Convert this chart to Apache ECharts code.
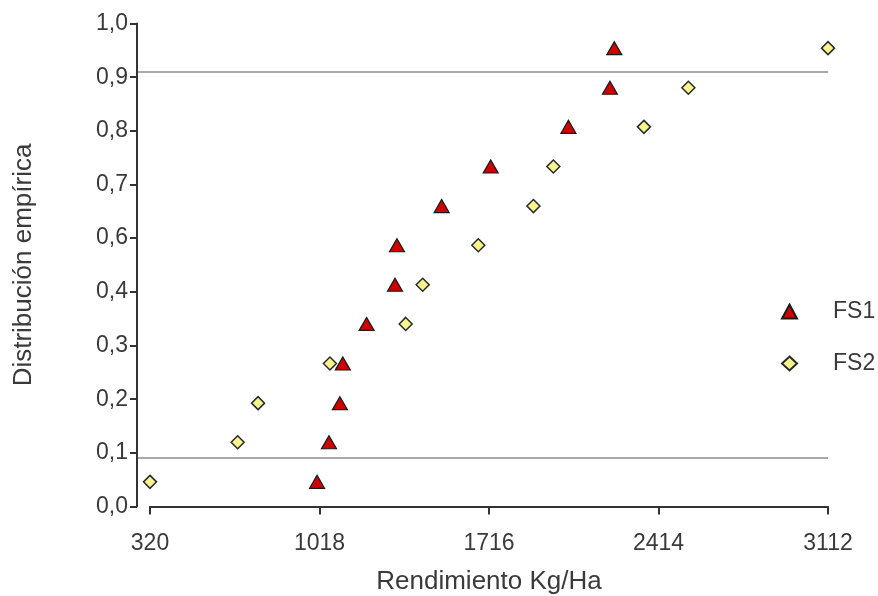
<!DOCTYPE html>
<html>
<head>
<meta charset="utf-8">
<script src="https://cdn.jsdelivr.net/npm/echarts@6/dist/echarts.min.js"></script>
<style>
  html, body { margin: 0; padding: 0; background: #ffffff; }
  #chart { width: 878px; height: 596px; }
</style>
</head>
<body>
<div id="chart"></div>
<script>
const seriesNames = ['FS1', 'FS2'];
const xFS1 = [1008, 1057, 1102, 1114, 1212, 1329, 1337, 1521, 1723, 2043, 2214, 2232];
const yFS1 = [0.051, 0.133, 0.214, 0.296, 0.378, 0.459, 0.541, 0.622, 0.704, 0.786, 0.867, 0.949];
const xFS2 = [320, 681, 765, 1061, 1373, 1443, 1672, 1899, 1981, 2354, 2537, 3112];
const yFS2 = [0.051, 0.133, 0.214, 0.296, 0.378, 0.459, 0.541, 0.622, 0.704, 0.786, 0.867, 0.949];
const xTickValues = [320, 1018, 1716, 2414, 3112];
const yTickValues = [0, 0.1111, 0.2222, 0.3333, 0.4444, 0.5556, 0.6667, 0.7778, 0.8889, 1];
const yTickLabels = ['0,0', '0,1', '0,2', '0,3', '0,4', '0,6', '0,7', '0,8', '0,9', '1,0'];
const refLines = [0.9, 0.1];

const pts1 = xFS1.map((x, i) => [x, yFS1[i]]);
const pts2 = xFS2.map((x, i) => [x, yFS2[i]]);

const txt = '#3a3a3a';
const axisCol = '#333333';
const fontFam = '"Liberation Sans", Arial, sans-serif';

const chart = echarts.init(document.getElementById('chart'), null, { renderer: 'canvas' });
chart.setOption({
  backgroundColor: '#ffffff',
  animation: false,
  textStyle: { fontFamily: fontFam },
  grid: [
    { left: 150, right: 50, top: 23.5, bottom: 89.5, outerBoundsMode: 'none', containLabel: false },
    { left: 138, right: 50, top: 23.5, bottom: 89.5, outerBoundsMode: 'none', containLabel: false, show: false }
  ],
  legend: {
    data: seriesNames,
    orient: 'vertical',
    left: 776,
    top: 295,
    itemWidth: 15,
    itemHeight: 14,
    itemGap: 29,
    textStyle: { fontSize: 23, color: txt, fontFamily: fontFam, padding: [0, 0, 0, 31] }
  },
  xAxis: [
    {
      type: 'value', gridIndex: 0, min: 320, max: 3112,
      offset: 12.5,
      name: 'Rendimiento Kg/Ha', nameLocation: 'middle', nameGap: 50,
      nameTextStyle: { fontSize: 26, color: txt, fontFamily: fontFam },
      axisLine: { show: true, lineStyle: { color: axisCol, width: 2 } },
      axisTick: { show: true, length: 8, customValues: xTickValues, lineStyle: { color: axisCol, width: 2 } },
      axisLabel: {
        customValues: xTickValues, fontSize: 23, color: txt, margin: 13, fontFamily: fontFam,
        formatter: function (v) { return String(Math.round(v)); }
      },
      splitLine: { show: false }
    },
    {
      type: 'value', gridIndex: 1, min: 0, max: 1, show: false
    }
  ],
  yAxis: [
    {
      type: 'value', gridIndex: 0, min: 0, max: 1,
      offset: 13,
      name: 'Distribución empírica', nameLocation: 'middle', nameGap: 100,
      nameTextStyle: { fontSize: 26, color: txt, fontFamily: fontFam },
      axisLine: { show: true, lineStyle: { color: axisCol, width: 2 } },
      axisTick: { show: true, length: 7, customValues: yTickValues, lineStyle: { color: axisCol, width: 2 } },
      axisLabel: {
        customValues: yTickValues, fontSize: 23, color: txt, margin: 9, fontFamily: fontFam,
        formatter: function (v) {
          for (let i = 0; i < yTickValues.length; i++) {
            if (Math.abs(yTickValues[i] - v) < 1e-6) return yTickLabels[i];
          }
          return '';
        }
      },
      splitLine: { show: false }
    },
    {
      type: 'value', gridIndex: 1, min: 0, max: 1, show: false
    }
  ],
  series: [
    {
      name: 'FS1', type: 'scatter', xAxisIndex: 0, yAxisIndex: 0,
      data: pts1, symbol: 'triangle', symbolSize: [15, 13],
      itemStyle: { color: '#d00000', borderColor: '#1a1a1a', borderWidth: 1.2, opacity: 1 },
      z: 5
    },
    {
      name: 'FS2', type: 'scatter', xAxisIndex: 0, yAxisIndex: 0,
      data: pts2, symbol: 'diamond', symbolSize: [13, 13],
      itemStyle: { color: '#f6f58e', borderColor: '#2a2a2a', borderWidth: 1.5, opacity: 1 },
      z: 5
    },
    {
      name: 'ref', type: 'scatter', xAxisIndex: 1, yAxisIndex: 1, data: [],
      silent: true, z: 1,
      markLine: {
        silent: true, symbol: 'none', animation: false,
        label: { show: false },
        data: [
          { yAxis: refLines[0], lineStyle: { color: '#aaaaaa', width: 2, type: 'solid' } },
          { yAxis: refLines[1], lineStyle: { color: '#8c8c8c', width: 1.5, type: 'solid' } }
        ]
      }
    }
  ]
});
</script>
</body>
</html>
